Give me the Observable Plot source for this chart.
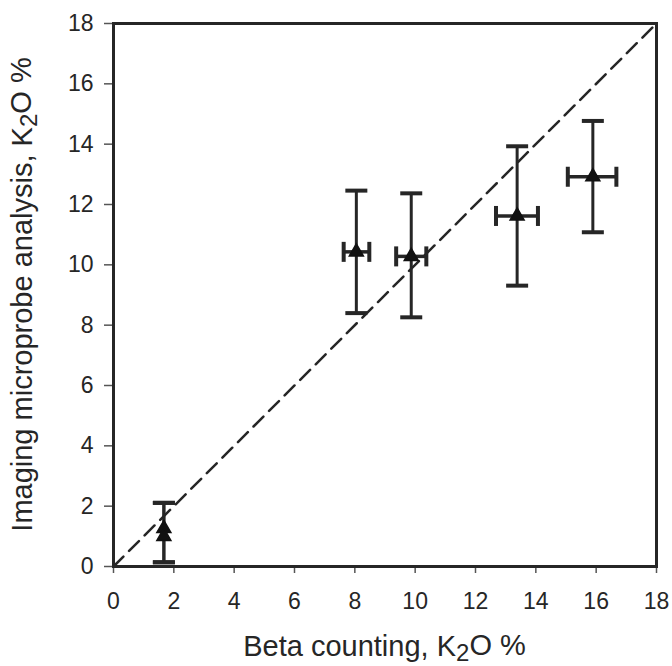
<!DOCTYPE html>
<html>
<head>
<meta charset="utf-8">
<script src="https://cdn.jsdelivr.net/npm/d3@7"></script>
<script src="https://cdn.jsdelivr.net/npm/@observablehq/plot@0.6"></script>
<style>
  html, body { margin: 0; padding: 0; background: #fff; }
  #chart svg { display: block; }
</style>
</head>
<body>
<div id="chart"></div>
<script>
// ---- data ----
const beta        = [1.67, 1.67, 8.05, 9.87, 13.38, 15.89];   // Beta counting, K2O %
const imaging     = [1.26, 1.00, 10.43, 10.28, 11.62, 12.92]; // Imaging microprobe analysis, K2O %
const imagingLow  = [0.14, 0.14, 8.40, 8.26, 9.31, 11.08];
const imagingHigh = [2.11, 2.11, 12.46, 12.37, 13.93, 14.77];
const betaLow     = [null, null, 7.63, 9.37, 12.68, 15.06];
const betaHigh    = [null, null, 8.48, 10.37, 14.07, 16.67];
const xTicks = [0, 2, 4, 6, 8, 10, 12, 14, 16, 18];
const yTicks = [0, 2, 4, 6, 8, 10, 12, 14, 16, 18];
const identityLine = [0, 18];

const rows = beta.map((b, i) => ({
  x: b, y: imaging[i], ylo: imagingLow[i], yhi: imagingHigh[i],
  xlo: betaLow[i], xhi: betaHigh[i]
}));
const xErrRows = rows.filter(d => d.xlo != null);

const ink = "#262626";
const hCap = { draw(ctx, size) { const r = Math.sqrt(size / Math.PI); ctx.moveTo(-r, 0); ctx.lineTo(r, 0); } };
const vCap = { draw(ctx, size) { const r = Math.sqrt(size / Math.PI); ctx.moveTo(0, -r); ctx.lineTo(0, r); } };

const W = 672, H = 666, ML = 113, MR = 16, MT = 23, MB = 100;

const chart = Plot.plot({
  width: W, height: H,
  marginLeft: ML, marginRight: MR, marginTop: MT, marginBottom: MB,
  style: { fontFamily: "'Liberation Sans', Arial, sans-serif", fontSize: "23px", color: ink, background: "#fff" },
  x: { domain: [0, 18] },
  y: { domain: [0, 18] },
  marks: [
    Plot.axisX({ ticks: xTicks, tickSize: 7, tickPadding: 19, label: null, fontSize: 23, stroke: "#555", strokeWidth: 1.5 }),
    Plot.axisY({ ticks: yTicks, tickSize: 9, tickPadding: 11, label: null, fontSize: 23, stroke: "#555", strokeWidth: 1.5 }),
    Plot.line(identityLine, { x: d => d, y: d => d, stroke: ink, strokeWidth: 2.5, strokeDasharray: "14,8" }),
    Plot.ruleX(rows, { x: "x", y1: "ylo", y2: "yhi", stroke: ink, strokeWidth: 3 }),
    Plot.dot(rows, { x: "x", y: "ylo", symbol: hCap, r: 11, stroke: ink, strokeWidth: 4, fill: "none" }),
    Plot.dot(rows, { x: "x", y: "yhi", symbol: hCap, r: 11, stroke: ink, strokeWidth: 4, fill: "none" }),
    Plot.ruleY(xErrRows, { y: "y", x1: "xlo", x2: "xhi", stroke: ink, strokeWidth: 3.5 }),
    Plot.dot(xErrRows, { x: "xlo", y: "y", symbol: vCap, r: 10, stroke: ink, strokeWidth: 4, fill: "none" }),
    Plot.dot(xErrRows, { x: "xhi", y: "y", symbol: vCap, r: 10, stroke: ink, strokeWidth: 4, fill: "none" }),
    Plot.dot(rows, { x: "x", y: "y", symbol: "triangle", r: 5.2, fill: "#111", stroke: "#111", strokeWidth: 1.5 }),
    Plot.frame({ stroke: ink, strokeWidth: 3 })
  ]
});

const svg = d3.select(chart);
const titleFont = "'Liberation Sans', Arial, sans-serif";
// x-axis title
const xt = svg.append("text")
  .attr("x", ML + (W - ML - MR) / 2).attr("y", 656)
  .attr("text-anchor", "middle").attr("fill", ink)
  .style("font-family", titleFont).style("font-size", "29px");
xt.append("tspan").text("Beta counting, K");
xt.append("tspan").attr("dy", "0.2em").style("font-size", "24px").text("2");
xt.append("tspan").attr("dy", "-0.2em").text("O %");
// y-axis title
const yt = svg.append("text")
  .attr("transform", `translate(32,${MT + (H - MT - MB) / 2}) rotate(-90)`)
  .attr("text-anchor", "middle").attr("fill", ink)
  .style("font-family", titleFont).style("font-size", "29px");
yt.append("tspan").text("Imaging microprobe analysis, K");
yt.append("tspan").attr("dy", "0.2em").style("font-size", "24px").text("2");
yt.append("tspan").attr("dy", "-0.2em").text("O %");

document.getElementById("chart").appendChild(chart);
</script>
</body>
</html>
